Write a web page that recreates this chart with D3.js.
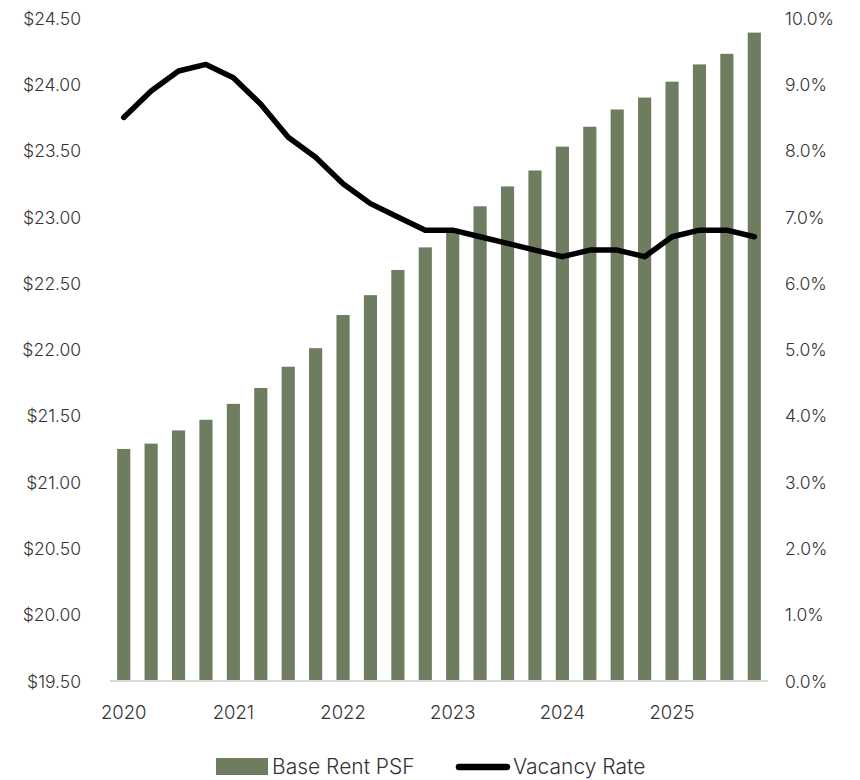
<!DOCTYPE html>
<html>
<head>
<meta charset="utf-8">
<script src="https://cdn.jsdelivr.net/npm/d3@7"></script>
<style>
  html, body { margin: 0; padding: 0; background: #fff; }
  svg text { font-family: Inter, "Open Sans", sans-serif; fill: #333; font-weight: 300; }
</style>
</head>
<body>
<svg id="chart" width="860" height="780"></svg>
<script>
const quarters = ["2020Q1","2020Q2","2020Q3","2020Q4","2021Q1","2021Q2","2021Q3","2021Q4",
  "2022Q1","2022Q2","2022Q3","2022Q4","2023Q1","2023Q2","2023Q3","2023Q4",
  "2024Q1","2024Q2","2024Q3","2024Q4","2025Q1","2025Q2","2025Q3","2025Q4"];
const baseRent = [21.25,21.29,21.39,21.47,21.59,21.71,21.87,22.01,22.26,22.41,22.60,22.77,
  22.91,23.08,23.23,23.35,23.53,23.68,23.81,23.90,24.02,24.15,24.23,24.39];
const vacancy = [8.5,8.9,9.2,9.3,9.1,8.7,8.2,7.9,7.5,7.2,7.0,6.8,
  6.8,6.7,6.6,6.5,6.4,6.5,6.5,6.4,6.7,6.8,6.8,6.7];
const leftTicks = [19.5,20,20.5,21,21.5,22,22.5,23,23.5,24,24.5];
const rightTicks = [0,1,2,3,4,5,6,7,8,9,10];
const yearLabels = ["2020","2021","2022","2023","2024","2025"];

const svg = d3.select("#chart");
const mLeft = 110, mRight = 768, mTop = 18, mBottom = 681;

const x = d3.scaleBand().domain(quarters).range([mLeft, mRight]).paddingInner(0.52).paddingOuter(0.26);
const yL = d3.scaleLinear().domain([19.5, 24.5]).range([mBottom, mTop]);
const yR = d3.scaleLinear().domain([0, 10]).range([mBottom, mTop]);

// bars
svg.append("g").selectAll("rect").data(quarters).join("rect")
  .attr("x", d => x(d))
  .attr("width", x.bandwidth())
  .attr("y", (d,i) => yL(baseRent[i]))
  .attr("height", (d,i) => yL(19.5) - yL(baseRent[i]))
  .attr("fill", "#6e7d60");

// baseline
svg.append("line").attr("x1", mLeft).attr("x2", mRight).attr("y1", mBottom).attr("y2", mBottom)
  .attr("stroke", "#d9d9d9").attr("stroke-width", 2);

// line
const line = d3.line()
  .x((d,i) => x(quarters[i]) + x.bandwidth()/2)
  .y(d => yR(d))
  .curve(d3.curveLinear);
svg.append("path").datum(vacancy).attr("d", line)
  .attr("fill", "none").attr("stroke", "#000").attr("stroke-width", 5.5)
  .attr("stroke-linejoin", "round").attr("stroke-linecap", "round");

// left axis
const axL = d3.axisLeft(yL).tickValues(leftTicks).tickSize(0).tickPadding(0)
  .tickFormat(d => "$" + d3.format(".2f")(d));
const gL = svg.append("g").attr("transform", `translate(81,0)`).call(axL);
gL.select(".domain").remove();
gL.selectAll("text").attr("font-size", 17.5).style("font-family", "Inter").style("font-weight", 300).attr("fill", "#333").attr("dy", "0.35em");

// right axis
const axR = d3.axisRight(yR).tickValues(rightTicks).tickSize(0).tickPadding(0)
  .tickFormat(d => d3.format(".1f")(d) + "%");
const gR = svg.append("g").attr("transform", `translate(785,0)`).call(axR);
gR.select(".domain").remove();
gR.selectAll("text").attr("font-size", 17.5).style("font-family", "Inter").style("font-weight", 300).attr("fill", "#333").attr("dy", "0.35em");

// x labels (every 4th quarter)
const xAxis = d3.axisBottom(x).tickSize(0).tickPadding(0)
  .tickValues(quarters.filter((d,i) => i % 4 === 0))
  .tickFormat((d) => yearLabels[quarters.indexOf(d) / 4]);
const gX = svg.append("g").attr("transform", `translate(0,${mBottom})`).call(xAxis);
gX.select(".domain").remove();
gX.selectAll("text").attr("font-size", 18.5).style("font-family", "Inter").style("font-weight", 300).attr("fill", "#333").attr("dy", 38);

// legend
const lg = svg.append("g");
lg.append("rect").attr("x", 216).attr("y", 758).attr("width", 52).attr("height", 17).attr("fill", "#6e7d60");
lg.append("text").attr("x", 272).attr("y", 767).attr("dy", "0.35em").attr("font-size", 21).text("Base Rent PSF");
lg.append("line").attr("x1", 459).attr("x2", 507).attr("y1", 767).attr("y2", 767)
  .attr("stroke", "#000").attr("stroke-width", 6.5).attr("stroke-linecap", "round");
lg.append("text").attr("x", 513).attr("y", 767).attr("dy", "0.35em").attr("font-size", 21).text("Vacancy Rate");
</script>
</body>
</html>
